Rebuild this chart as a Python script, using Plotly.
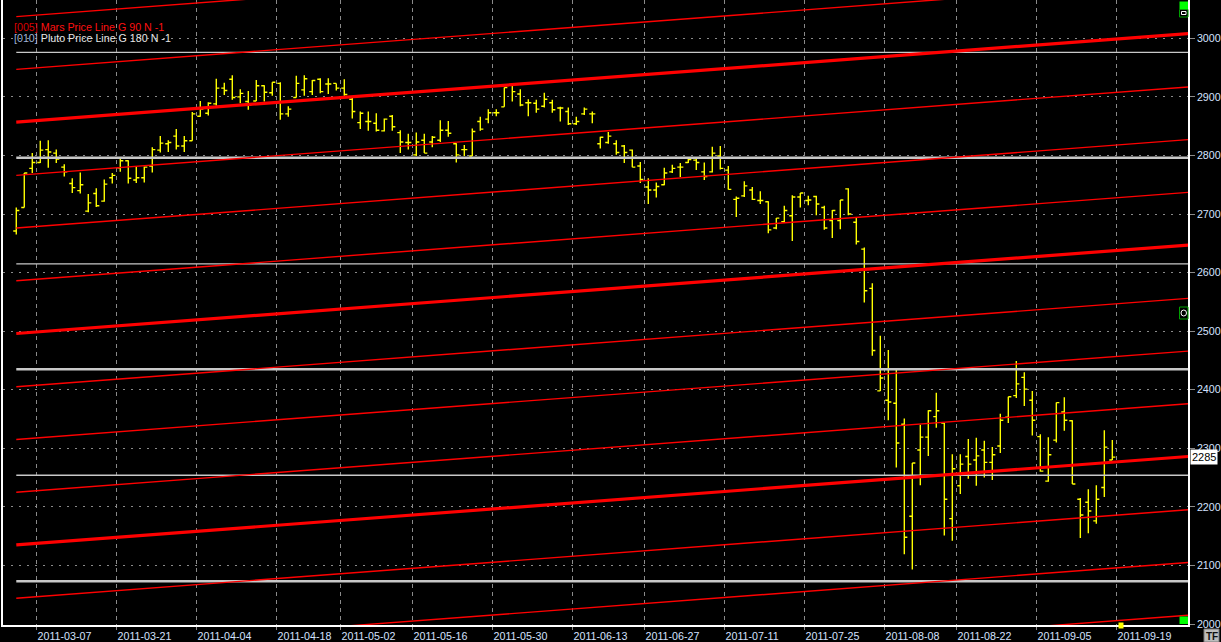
import pandas as pd
import plotly.graph_objects as go

# ---------------- data ----------------
holidays = ["2011-04-22", "2011-04-25", "2011-05-10", "2011-06-16", "2011-08-15"]
calendar = [d.strftime("%Y-%m-%d") for d in pd.bdate_range("2011-03-02", "2011-09-30")
            if d.strftime("%Y-%m-%d") not in holidays]

tick_dates = ["2011-03-07", "2011-03-21", "2011-04-04", "2011-04-18", "2011-05-02",
              "2011-05-16", "2011-05-30", "2011-06-13", "2011-06-27", "2011-07-11",
              "2011-07-25", "2011-08-08", "2011-08-22", "2011-09-05", "2011-09-19"]
y_ticks = [2000, 2100, 2200, 2300, 2400, 2500, 2600, 2700, 2800, 2900, 3000]

opens = [2671, 2711, 2778, 2788, 2810, 2804, 2780, 2752, 2740, 2705,
         2735, 2722, 2762, 2779, 2791, 2758, 2762, 2782, 2809, 2820,
         2833, 2816, 2825, 2867, 2872, 2888, 2915, 2930, 2900, 2892,
         2893, 2919, 2907, 2923, 2871, 2899, 2912, 2909, 2930, 2922,
         2923, 2915, 2896, 2856, 2858, 2855, 2842, 2867, 2839, 2822,
         2801, 2826, 2823, 2826, 2843, 2820, 2810, 2799, 2858, 2862,
         2873, 2883, 2920, 2905, 2890, 2889, 2884, 2890, 2881, 2875,
         2854, 2871, 2871, 2820, 2822, 2820, 2816, 2809, 2782, 2746,
         2741, 2750, 2772, 2780, 2788, 2792, 2772, 2772, 2799, 2775,
         2725, 2731, 2741, 2723, 2721, 2676, 2687, 2697, 2729, 2723,
         2730, 2711, 2689, 2689, 2743, 2686, 2640, 2573, 2398, 2382,
         2377, 2341, 2184, 2297, 2319, 2354, 2343, 2180, 2236, 2286,
         2280, 2297, 2276, 2304, 2353, 2390, 2421, 2382, 2320, 2244,
         2314, 2362, 2347, 2213, 2208, 2176, 2233, 2280]
highs = [2711, 2770, 2804, 2825, 2826, 2810, 2785, 2761, 2771, 2734,
         2744, 2759, 2770, 2796, 2792, 2781, 2781, 2814, 2833, 2826,
         2845, 2833, 2874, 2893, 2891, 2931, 2924, 2937, 2913, 2910,
         2929, 2920, 2925, 2925, 2884, 2936, 2937, 2929, 2932, 2932,
         2923, 2930, 2898, 2875, 2875, 2872, 2863, 2869, 2843, 2837,
         2839, 2837, 2833, 2860, 2859, 2821, 2818, 2846, 2866, 2879,
         2879, 2916, 2920, 2913, 2896, 2895, 2907, 2895, 2883, 2882,
         2866, 2882, 2875, 2832, 2840, 2826, 2818, 2810, 2789, 2761,
         2754, 2779, 2784, 2787, 2797, 2794, 2788, 2815, 2816, 2782,
         2730, 2756, 2746, 2739, 2722, 2693, 2714, 2732, 2736, 2731,
         2731, 2714, 2707, 2724, 2744, 2693, 2643, 2582, 2492, 2468,
         2434, 2351, 2275, 2340, 2365, 2395, 2343, 2290, 2290, 2316,
         2318, 2313, 2302, 2359, 2388, 2449, 2430, 2398, 2324, 2319,
         2378, 2387, 2348, 2215, 2230, 2237, 2331, 2314]
lows = [2665, 2711, 2770, 2787, 2779, 2787, 2764, 2736, 2735, 2703,
        2712, 2721, 2752, 2772, 2752, 2753, 2754, 2771, 2805, 2806,
        2810, 2806, 2825, 2866, 2868, 2885, 2903, 2895, 2889, 2878,
        2893, 2892, 2902, 2861, 2866, 2899, 2902, 2903, 2906, 2905,
        2911, 2902, 2863, 2845, 2842, 2841, 2841, 2842, 2804, 2810,
        2799, 2804, 2814, 2823, 2832, 2788, 2799, 2799, 2842, 2855,
        2867, 2883, 2892, 2884, 2867, 2873, 2882, 2873, 2858, 2852,
        2852, 2869, 2855, 2812, 2820, 2801, 2787, 2780, 2753, 2717,
        2728, 2749, 2770, 2763, 2787, 2775, 2758, 2771, 2776, 2742,
        2695, 2729, 2724, 2717, 2667, 2674, 2685, 2654, 2711, 2715,
        2698, 2673, 2659, 2674, 2698, 2648, 2549, 2458, 2398, 2348,
        2267, 2119, 2093, 2237, 2287, 2335, 2151, 2142, 2222, 2248,
        2236, 2250, 2246, 2292, 2343, 2386, 2372, 2322, 2260, 2243,
        2310, 2330, 2239, 2147, 2155, 2171, 2217, 2280]
closes = [2706, 2770, 2788, 2809, 2806, 2794, 2772, 2745, 2750, 2719,
          2714, 2751, 2766, 2791, 2761, 2762, 2780, 2810, 2821, 2822,
          2816, 2825, 2871, 2879, 2889, 2915, 2911, 2899, 2906, 2886,
          2919, 2908, 2925, 2871, 2879, 2923, 2931, 2928, 2909, 2922,
          2915, 2904, 2875, 2872, 2858, 2843, 2862, 2849, 2823, 2822,
          2823, 2804, 2831, 2843, 2838, 2801, 2810, 2841, 2845, 2873,
          2873, 2916, 2909, 2886, 2890, 2879, 2896, 2878, 2881, 2854,
          2858, 2879, 2871, 2831, 2833, 2805, 2805, 2780, 2759, 2741,
          2747, 2770, 2778, 2780, 2793, 2788, 2764, 2804, 2778, 2742,
          2727, 2748, 2725, 2723, 2673, 2693, 2706, 2729, 2736, 2724,
          2717, 2676, 2706, 2724, 2700, 2653, 2569, 2467, 2420, 2379,
          2309, 2148, 2275, 2319, 2364, 2364, 2213, 2265, 2273, 2273,
          2287, 2276, 2289, 2348, 2388, 2410, 2401, 2348, 2261, 2289,
          2378, 2348, 2239, 2186, 2193, 2213, 2302, 2285]

# Mars price lines (G 90): value at first bar and at right edge of chart
line_span = [0, 146.5]
mars_start = [1864, 1954, 2044, 2135, 2225, 2315, 2405, 2496, 2586, 2676, 2766, 2857, 2947, 3037]
mars_end = [2015, 2105, 2195, 2286, 2376, 2466, 2556, 2647, 2737, 2827, 2917, 3008, 3098, 3188]
mars_major = [False, False, False, True, False, False, False, True, False, False, False, True, False, False]
# Pluto price lines (G 180)
pluto_start = [2073, 2254, 2435, 2615, 2796, 2976]
pluto_end = [2073, 2254, 2435, 2615, 2796, 2976]
pluto_major = [True, False, True, False, True, False]
mars_current = 2285

n = len(opens)
dates = calendar[:n]
xi = list(range(n))

# ---------------- figure ----------------
W, H = 1221, 642
ML, MR, MT, MB = 3, 33, 0, 17
PW, PH = W - ML - MR, H - MT - MB


def px(x):
    return (x - ML) / PW


def py(y):
    return 1 - (y - MT) / PH


FONT = "Liberation Sans, Arial, sans-serif"
LABEL = "#d4e2ff"

fig = go.Figure()

for s, e, major in zip(pluto_start, pluto_end, pluto_major):
    fig.add_trace(go.Scatter(x=line_span, y=[s, e], mode="lines",
                             line=dict(color="#c8c8c8", width=2.6 if major else 1.3),
                             hoverinfo="skip", showlegend=False))
for s, e, major in zip(mars_start, mars_end, mars_major):
    fig.add_trace(go.Scatter(x=line_span, y=[s, e], mode="lines",
                             line=dict(color="#ff0000", width=3.2 if major else 1.4),
                             hoverinfo="skip", showlegend=False))

fig.add_trace(go.Ohlc(x=xi, open=opens, high=highs, low=lows, close=closes,
                      text=dates, tickwidth=0.38,
                      increasing=dict(line=dict(color="#ffff00", width=1.4)),
                      decreasing=dict(line=dict(color="#ffff00", width=1.4)),
                      showlegend=False))

tickvals = [calendar.index(t) - 0.5 for t in tick_dates]

fig.update_layout(
    width=W, height=H,
    margin=dict(l=ML, r=MR, t=MT, b=MB, autoexpand=False),
    paper_bgcolor="#000000", plot_bgcolor="#000000",
    font=dict(family=FONT, size=10.7, color=LABEL),
    showlegend=False,
    xaxis=dict(range=[-1.66, 146.46], tickmode="array", tickvals=tickvals, ticktext=tick_dates,
               showgrid=True, gridcolor="#8a8a8a", griddash="4px,4px", gridwidth=1,
               ticks="outside", ticklen=3, tickcolor="#8a8a8a",
               ticklabelposition="outside right", automargin=False,
               showline=True, linecolor="#ffffff", linewidth=1.5, zeroline=False,
               rangeslider=dict(visible=False),
               tickfont=dict(family=FONT, size=10.7, color=LABEL)),
    yaxis=dict(side="right", range=[1998.3, 3065.4], tickmode="array", tickvals=y_ticks,
               showgrid=True, gridcolor="#8a8a8a", griddash="2px,6px", gridwidth=1,
               ticks="outside", ticklen=5, tickcolor="#8a8a8a", automargin=False,
               showline=True, linecolor="#ffffff", linewidth=1.5, mirror=True, zeroline=False,
               tickfont=dict(family=FONT, size=10.7, color=LABEL)),
)

annotations = [
    dict(x=px(12), y=py(27), xref="paper", yref="paper", xanchor="left", yanchor="middle",
         showarrow=False, font=dict(family=FONT, size=10.7, color="#ff1010"),
         text="<span style='color:#d80000'>[005]</span> Mars Price Line G 90 N -1"),
    dict(x=px(12), y=py(38.5), xref="paper", yref="paper", xanchor="left", yanchor="middle",
         showarrow=False, font=dict(family=FONT, size=10.7, color="#e6e6e6"),
         text="<span style='color:#9fb3d6'>[010]</span> Pluto Price Line G 180 N -1"),
    dict(x=px(1190), y=mars_current, xref="paper", yref="y", xanchor="left", yanchor="middle",
         showarrow=False, bgcolor="#ffffff", borderpad=1,
         font=dict(family=FONT, size=11, color="#000000"), text=str(mars_current)),
    dict(x=px(1211.5), y=py(636), xref="paper", yref="paper", xanchor="center", yanchor="middle",
         showarrow=False, font=dict(family=FONT, size=10, color="#101010"), text="<b>TF</b>"),
]
fig.update_layout(annotations=annotations)

shapes = [
    # TF button
    dict(type="rect", xref="paper", yref="paper", x0=px(1204), x1=px(1219), y0=py(642), y1=py(629),
         fillcolor="#bdbdbd", line=dict(color="#7a7a7a", width=1), layer="below"),
    # top-right green marker
    dict(type="rect", xref="paper", yref="paper", x0=px(1179.5), x1=px(1188), y0=py(9), y1=py(1.5),
         fillcolor="#00ff00", line=dict(width=0)),
    dict(type="rect", xref="paper", yref="paper", x0=px(1179.5), x1=px(1188), y0=py(17), y1=py(9.5),
         fillcolor="#000000", line=dict(color="#00a000", width=1)),
    dict(type="rect", xref="paper", yref="paper", x0=px(1181.5), x1=px(1186), y0=py(14.5), y1=py(11.5),
         fillcolor="rgba(0,0,0,0)", line=dict(color="#ffffff", width=1)),
    # middle circle marker
    dict(type="rect", xref="paper", yref="paper", x0=px(1179.5), x1=px(1188), y0=py(319), y1=py(307),
         fillcolor="#000000", line=dict(color="#00a000", width=1)),
    dict(type="circle", xref="paper", yref="paper", x0=px(1181), x1=px(1186.5), y0=py(316), y1=py(310),
         fillcolor="rgba(0,0,0,0)", line=dict(color="#ffffff", width=1)),
    # bottom-right green marker
    dict(type="rect", xref="paper", yref="paper", x0=px(1179.5), x1=px(1188), y0=py(624), y1=py(616.5),
         fillcolor="#00ff00", line=dict(width=0)),
    # current bar marker
    dict(type="rect", xref="paper", yref="paper", x0=px(1118.5), x1=px(1123.5), y0=py(628.5), y1=py(622.5),
         fillcolor="#ffff00", line=dict(width=0)),
]
fig.update_layout(shapes=shapes)

fig.write_html("out.html", config={"displayModeBar": False})

# remove the browser's default page margin so the figure sits at the window origin
with open("out.html", encoding="utf-8") as f:
    page = f.read()
page = page.replace("<head>", "<head><style>html,body{margin:0;padding:0;overflow:hidden;background:#000}</style>", 1)
with open("out.html", "w", encoding="utf-8") as f:
    f.write(page)
